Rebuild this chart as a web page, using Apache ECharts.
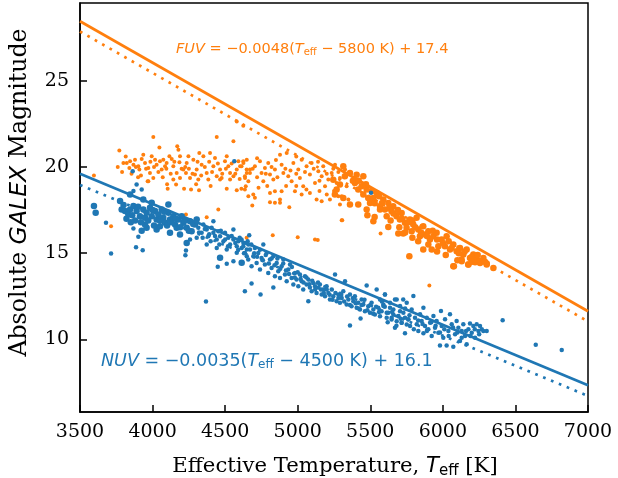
<!DOCTYPE html>
<html><head><meta charset="utf-8">
<script src="https://cdn.jsdelivr.net/npm/echarts@6/dist/echarts.min.js"></script>
<style>html,body{margin:0;padding:0;background:#fff}#c{width:618px;height:478px}</style>
</head><body><div id="c"></div>
<script>
// x tick labels (K) and y tick labels (mag)
const xTicks = [3500,4000,4500,5000,5500,6000,6500,7000];
const yTicks = [10,15,20,25];

// fit lines (endpoints at 3500 K and 7000 K)
const fuvFit = [[3500,28.44],[7000,11.64]];
const fuvFitDotted = [[3500,27.85],[7000,11.05]];
const nuvFit = [[3500,19.60],[7000,7.35]];
const nuvFitDotted = [[3500,18.96],[7000,6.73]];

// FUV measurements (small markers) [Teff, mag]
const fuvSmall = [
[3771,20.95],[3822,20.23],[3845,20.33],[3879,20.42],[3840,19.94],[3902,20.04],[3909,19.85],[3936,20.71],[3948,20.23],[3994,20.62],
[3971,19.94],[3982,19.65],[4005,19.36],[3971,19.17],[4051,20.33],[4074,20.42],[4063,19.85],[4097,20.23],[4132,20.46],[4143,20.04],
[4185,20.27],[4189,20.62],[4212,19.85],[4235,20.23],[4281,20.42],[4304,19.85],[4292,19.56],[4338,20.13],[4350,20.62],[4373,19.65],
[4419,20.04],[4430,20.52],[4442,19.46],[4465,19.85],[4499,20.33],[4511,20.62],[4534,19.65],[4557,19.46],[4580,19.85],[4603,20.04],
[4626,20.23],[4649,19.65],[4637,19.36],[4660,19.17],[3966,19.17],[4104,18.73],[4162,18.98],[4217,18.73],[4265,18.69],[4320,18.65],
[4511,18.73],[4580,18.65],[4612,18.73],[4642,18.88],[4660,18.30],[4143,19.27],[4189,19.36],[4258,19.36],[4315,19.27],[4384,19.27],
[4465,19.27],[4534,19.27],[4005,21.74],[4442,21.74],[4557,21.49],[4047,21.12],[4170,21.20],[4178,21.00],[4580,22.64],[4625,22.39],
[3799,20.23],[3868,20.13],[3925,20.46],[4017,20.42],[4028,20.13],[4086,20.04],[4116,20.62],[4166,19.65],[4230,19.65],[4247,20.62],
[4322,20.81],[4396,20.81],[4476,19.36],[4522,20.04],[4591,20.33],[4649,20.42],[4671,19.85],
[4625,20.33],[4613,20.04],[4648,19.85],[4636,19.46],[4671,19.65],[4705,20.04],[4740,20.33],[4751,19.65],[4774,19.94],[4763,19.17],
[4797,20.23],[4809,19.56],[4832,19.27],[4843,19.85],[4878,20.71],[4889,20.13],[4901,19.65],[4924,20.81],[4935,19.46],[4970,20.23],
[4958,19.17],[5004,19.85],[5027,20.42],[5015,19.36],[5038,18.88],[5061,20.04],[5084,19.56],[5096,20.23],[5119,19.07],[5142,19.75],
[5165,19.46],[5176,20.04],[5188,18.88],[5211,19.27],[5234,19.65],[5257,20.13],[5268,19.07],[5291,19.36],[5303,18.30],[5326,19.85],
[5337,18.88],[5349,18.11],[4636,18.69],[4694,18.40],[4705,18.21],[4809,18.49],[4843,18.59],[4878,18.11],[4889,18.59],[4981,18.59],
[5027,18.40],[5084,18.49],[5130,18.11],[5165,18.01],[5222,18.11],[5280,18.30],[5291,17.82],[4687,17.76],[4942,17.66],[5303,16.91],
[4809,17.95],[4843,17.92],[4878,17.92],
[3596,19.50],[3714,16.56],[4230,17.24],[4373,17.09],[4453,17.53],[4648,15.89],[4828,16.04],[5000,15.93],[5119,15.80],[5138,15.76],
[5907,13.13],[5307,16.91],[5571,16.14],
[3760,20.0],[3790,19.7],[3815,20.6],[3855,19.6],[3885,20.0],[3920,19.5],[3955,19.9],[3985,20.3],[4010,20.0],[4040,19.7],
[4070,19.4],[4095,19.9],[4125,19.6],[4150,20.3],[4200,19.9],[4225,20.0],[4250,19.9],[4275,19.6],[4310,20.3],[4335,19.5],
[4360,20.0],[4390,20.3],[4410,19.7],[4450,20.2],[4480,19.6],[4505,19.9],[4545,20.2],[4570,19.6],[4600,19.3],[4690,19.9],
[4720,19.4],[4780,19.6],[4820,20.0],[4860,19.4],[4915,19.9],[4950,19.8],[4990,19.6],[5050,19.7],[5110,19.9],[5150,19.2],
[5200,19.6],[5245,19.9],[5280,19.7],[5320,19.4],[4730,18.8],[4790,18.9],[4920,18.9],[4990,18.9],[5060,18.7],[5150,18.6],
[5200,18.4],[5250,18.6],[4400,18.9],[4300,19.0],[4100,19.0],[3900,19.4],[4720,20.5],[4850,20.4],[4990,20.6],[5140,20.3]
];
// FUV measurements (large markers)
const fuvLarge = [
[5314,20.04],[5325,19.46],[5360,19.65],[5394,19.07],[5406,19.55],[5417,18.69],[5440,18.88],[5452,19.46],[5452,18.40],[5475,18.69],
[5486,18.20],[5498,17.91],[5521,18.20],[5544,18.49],[5567,17.72],[5590,18.11],[5601,17.53],[5613,17.14],[5624,17.91],[5647,17.43],
[5658,17.72],[5681,17.14],[5704,16.95],[5716,17.33],[5739,16.76],[5750,16.47],[5773,16.95],[5785,16.27],[5796,16.66],[5819,17.05],
[5831,16.37],[5842,15.98],[5865,16.56],[5877,16.08],[5900,16.27],[5911,15.79],[5934,15.98],[5957,16.18],[5969,15.40],[5991,15.79],
[6014,15.40],[6026,15.98],[6049,15.21],[6072,15.50],[6095,15.11],[6118,15.31],[6141,14.92],[6164,15.21],[6187,14.73],[6210,14.92],
[6233,14.63],[6256,14.44],[6279,14.73],[6302,14.34],[6348,14.15],[6175,14.34],[6129,14.63],[5923,15.21],[5865,15.21],[6072,14.25],
[5521,16.85],[5624,16.52],[5693,16.14],[5727,16.14],[5567,17.53],[5475,17.53],[5417,17.82],[5360,17.82],[5314,18.20],[5268,18.69],
[5256,18.40],[5291,18.98],[5245,19.26],[5769,14.83],[6076,14.25],[6130,14.54],[6176,14.35],[6222,14.48],[6256,14.54],[6302,14.40],
[5380,19.2],[5420,19.2],[5470,19.0],[5510,18.6],[5530,17.9],[5560,18.3],[5580,17.9],[5630,17.6],[5660,17.3],[5690,17.5],
[5720,17.0],[5760,16.8],[5790,16.9],[5810,16.5],[5850,16.2],[5890,16.0],[5930,16.3],[5960,15.8],[6000,15.6],[6040,15.7],
[6060,15.3],[6110,15.0],[6150,15.1],[6200,14.8],[6240,14.9],[6290,14.5],[5480,17.2],[5530,17.1],[5640,16.9],[5700,16.5],
[5740,16.2],[5790,15.9],[5830,15.7],[5900,15.5],[5960,15.1],[6020,14.9],[6100,14.6],[6200,14.5]
];

// NUV measurements (large markers)
const nuvLarge = [
[3596,17.73],[3608,17.34],[3776,18.02],[4109,17.82],[3845,18.40],[3936,18.11],[3994,17.92],
[3787,17.53],[3810,17.44],[3833,17.24],[3845,17.53],[3868,17.73],[3890,17.44],[3913,17.15],[3936,17.53],[3948,17.05],[3959,17.34],
[3982,17.63],[3994,17.15],[4017,17.44],[4028,16.95],[4040,17.24],[4063,17.53],[4074,17.05],[4086,16.76],[4109,17.34],[4120,16.95],
[4143,17.15],[4155,16.66],[4166,16.47],[4178,16.95],[4201,17.15],[4212,16.76],[4235,16.47],[4258,16.86],[4269,16.28],[4292,16.66],
[4304,16.95],[4028,16.38],[3959,16.47],[4235,15.60],[3948,16.66],[4051,16.57],[4120,16.18],[4189,16.09],[4465,14.74],[4614,14.45],
[3800,17.8],[3820,17.0],[3860,17.2],[3880,16.9],[3900,17.7],[3920,16.8],[3970,16.9],[4000,17.5],[4010,16.6],[4050,16.9],
[4080,17.4],[4100,16.6],[4130,16.8],[4160,17.0],[4190,16.5],[4220,16.9],[4250,16.3],[4280,16.7],[3850,16.8],[3925,16.3]
];
// NUV measurements (small markers)
const nuvSmall = [
[3679,16.76],[3714,14.99],[3868,16.43],[3902,15.95],[3886,15.35],[3932,15.18],[3863,19.75],[3890,18.98],[3925,18.69],[3868,18.60],
[4563,20.33],[5505,18.50],[4368,12.20],
[4315,16.47],[4338,16.18],[4350,16.66],[4373,16.38],[4384,15.99],[4407,16.47],[4419,16.18],[4442,15.80],[4453,16.28],[4465,15.99],
[4488,15.70],[4499,16.18],[4522,15.89],[4534,15.51],[4557,15.80],[4580,15.41],[4591,15.70],[4614,15.31],[4626,15.60],[4649,15.22],
[4660,15.51],[4258,15.80],[4304,15.89],[4373,15.51],[4442,15.31],[4511,15.22],[4580,15.03],[4649,14.83],[4557,14.54],[4511,14.39],
[4449,14.21],[4230,15.16],[4226,14.89],[4419,16.86],[4557,16.38],
[4613,15.79],[4625,15.41],[4636,15.02],[4648,15.60],[4659,14.63],[4671,15.21],[4682,14.25],[4694,14.83],[4705,15.31],[4717,14.44],
[4728,15.02],[4740,14.06],[4751,14.73],[4763,15.50],[4774,14.34],[4786,15.02],[4797,13.86],[4809,14.63],[4820,14.15],[4832,14.83],
[4843,13.67],[4855,14.44],[4866,13.96],[4878,13.57],[4889,14.25],[4901,14.63],[4912,13.77],[4924,13.38],[4935,14.06],[4947,14.34],
[4958,13.57],[4970,13.19],[4981,13.86],[4992,13.48],[5004,13.09],[5015,13.77],[5027,13.38],[5038,12.90],[5050,13.67],[5061,13.19],
[5073,13.48],[5084,13.01],[5096,12.80],[5107,13.28],[5119,13.09],[5130,12.70],[5142,13.01],[5153,13.19],[5165,12.61],[5176,12.90],
[5188,12.51],[5199,13.09],[5211,12.70],[5222,12.32],[5234,12.90],[5245,12.51],[5257,13.77],[5268,12.22],[5280,12.61],[5291,12.13],
[5303,12.41],[5314,12.80],[5326,13.38],[5337,12.03],[5349,12.32],[5360,12.61],[5371,11.93],[5383,12.22],[5394,12.51],[5406,11.84],
[5417,12.13],[5429,11.74],[5440,12.32],[5452,12.03],[5463,11.64],[5475,13.13],[5486,11.93],[5498,11.55],[5509,12.13],[5521,11.74],
[5532,11.45],[5544,12.90],[5555,11.84],[5567,11.35],[5578,11.64],[5590,12.03],[5601,12.61],[5613,11.26],[5624,11.55],[5636,11.84],
[5647,11.16],[5659,11.45],[5670,12.32],[5682,11.06],[5693,11.35],[5705,11.64],[5716,10.97],[5727,12.32],[5739,11.26],[5751,10.87],
[5762,11.16],[4636,12.80],[4744,12.61],[4832,13.01],[4682,13.24],[5073,12.22],[5360,10.81],[5433,11.22],[4666,16.04],
[5567,12.32],[5590,11.94],[5601,12.61],[5613,11.55],[5636,12.13],[5647,11.26],[5659,11.74],[5670,10.68],[5682,12.32],[5693,11.36],
[5705,11.94],[5716,10.97],[5728,11.55],[5739,10.36],[5751,12.13],[5762,11.17],[5774,10.78],[5785,11.74],[5797,12.52],[5808,11.26],
[5820,10.88],[5831,10.49],[5843,11.46],[5854,11.07],[5866,11.84],[5866,10.36],[5877,10.78],[5889,11.26],[5900,10.59],[5912,10.97],
[5923,10.20],[5935,11.36],[5946,10.68],[5957,11.07],[5969,10.39],[5987,11.65],[5992,10.78],[6003,10.10],[6015,11.17],[6026,9.66],
[6038,10.49],[6049,11.46],[6061,10.88],[6072,9.58],[6084,10.30],[6095,11.07],[6107,10.68],[6118,9.91],[6130,10.49],[6141,10.88],
[6153,10.20],[6164,9.72],[6176,10.59],[6187,10.93],[6199,10.39],[6210,10.78],[6222,10.10],[6233,10.88],[6245,10.49],[6256,10.78],
[6268,10.59],[6279,10.49],[6302,10.49],[5980,9.66],[6412,11.11],[6640,9.70],[6819,9.39],
[4320,16.2],[4345,15.9],[4360,16.4],[4390,16.1],[4400,15.7],[4430,16.0],[4460,15.5],[4470,16.3],[4500,15.8],[4520,15.4],
[4545,16.0],[4570,15.6],[4590,15.2],[4600,15.9],[4630,15.0],[4655,15.7],
[4680,15.5],[4700,15.0],[4720,14.8],[4740,15.2],[4760,14.6],[4780,14.9],[4800,14.4],[4820,14.7],[4840,14.3],[4860,14.7],
[4880,14.1],[4900,14.4],[4920,14.0],[4940,13.8],[4960,14.2],[4980,13.6],[5000,13.9],[5020,13.5],[5040,13.3],[5060,13.6],
[5080,13.2],[5100,13.4],[5120,12.9],[5140,13.3],[5160,12.9],[5180,12.7],[5200,12.9],[5220,12.6],[5240,12.3],[5260,12.7],
[5280,12.4],[5300,12.6],[5320,12.2],[5340,12.5],[5360,12.0],[5380,12.4],[5400,12.1],[5420,11.8],[5440,12.0],[5460,12.3],
[5480,11.7],[5500,12.0],[5520,11.5],[5540,11.9],[5560,11.6],[5580,12.2],[5600,11.9],
[5620,11.0],[5650,11.6],[5680,10.8],[5710,11.2],[5740,11.8],[5770,11.4],[5800,10.6],[5830,11.1],[5860,10.9],[5890,10.5],
[5920,11.0],[5950,10.8],[5980,10.4],[6010,10.6],[6040,10.2],[6070,10.7],[6100,10.4],[6130,10.1],[6160,10.5],[6190,10.2],
[6220,10.6],[6250,10.3]
];

const ORANGE = '#ff7f0e', BLUE = '#1f77b4';
const SERIF = '"DejaVu Serif", serif';
const SANS = '"DejaVu Sans", sans-serif';

const chart = echarts.init(document.getElementById('c'), null, {renderer: 'canvas'});
const mathRich = (color, size) => ({
  i: {fontFamily: SANS, fontStyle: 'italic', fontSize: size, fill: color},
  s: {fontFamily: SANS, fontSize: Math.round(size*0.7), fill: color, padding: [Math.round(size*0.45),0,0,0]},
  n: {fontFamily: SANS, fontSize: size, fill: color},
  r: {fontFamily: SERIF, fontSize: size, fill: color}
});

chart.setOption({
  animation: false,
  grid: {left: 80, right: 30, top: 3, bottom: 66, show: true, borderColor: '#000', borderWidth: 1.5, containLabel: false},
  xAxis: {
    type: 'value', min: 3500, max: 7000, interval: 500,
    axisLine: {show: true, lineStyle: {color: '#000', width: 1.5}},
    axisTick: {show: true, inside: true, length: 7, lineStyle: {color: '#000', width: 1.5}},
    axisLabel: {color: '#000', fontFamily: SERIF, fontSize: 19, margin: 11, formatter: v => String(v)},
    splitLine: {show: false}
  },
  yAxis: {
    type: 'value', min: 5.8, max: 29.5,
    axisLine: {show: true, lineStyle: {color: '#000', width: 1.5}},
    axisTick: {show: true, inside: true, length: 7, lineStyle: {color: '#000', width: 1.5}, customValues: yTicks},
    axisLabel: {color: '#000', fontFamily: SERIF, fontSize: 19, margin: 11, customValues: yTicks, formatter: v => String(v)},
    splitLine: {show: false}
  },
  series: [
    {type: 'scatter', data: fuvSmall, symbolSize: 4, itemStyle: {color: ORANGE, opacity: 1}, z: 2},
    {type: 'scatter', data: fuvLarge, symbolSize: 6.5, itemStyle: {color: ORANGE, opacity: 1}, z: 2},
    {type: 'scatter', data: nuvSmall, symbolSize: 4.5, itemStyle: {color: BLUE, opacity: 1}, z: 3},
    {type: 'scatter', data: nuvLarge, symbolSize: 6.5, itemStyle: {color: BLUE, opacity: 1}, z: 3},
    {type: 'line', data: fuvFit, showSymbol: false, lineStyle: {color: ORANGE, width: 2.7}, z: 4},
    {type: 'line', data: fuvFitDotted, showSymbol: false, lineStyle: {color: ORANGE, width: 2.7, type: [2.7, 5.8]}, z: 4},
    {type: 'line', data: nuvFit, showSymbol: false, lineStyle: {color: BLUE, width: 2.7}, z: 4},
    {type: 'line', data: nuvFitDotted, showSymbol: false, lineStyle: {color: BLUE, width: 2.7, type: [2.7, 5.8]}, z: 4}
  ],
  graphic: [
    {type: 'text', x: 176, y: 49, z: 10, style: {
      text: '{i|FUV}{n| = −0.0048(}{i|T}{s|eff}{n| − 5800 K) + 17.4}',
      rich: mathRich(ORANGE, 14.5), fill: ORANGE, align: 'left', verticalAlign: 'middle'}},
    {type: 'text', x: 101, y: 361, z: 10, style: {
      text: '{i|NUV}{n| = −0.0035(}{i|T}{s|eff}{n| − 4500 K) + 16.1}',
      rich: mathRich(BLUE, 17.5), fill: BLUE, align: 'left', verticalAlign: 'middle'}},
    {type: 'text', x: 335, y: 466, z: 10, style: {
      text: '{r|Effective Temperature, }{i|T}{s|eff}{r| [K]}',
      rich: mathRich('#000', 21.2), fill: '#000', align: 'center', verticalAlign: 'middle'}},
    {type: 'text', x: 20, y: 192.5, rotation: Math.PI/2, z: 10, style: {
      text: '{r|Absolute }{i|GALEX}{r| Magnitude}',
      rich: mathRich('#000', 23.6), fill: '#000', align: 'center', verticalAlign: 'middle'}}
  ]
});
</script>
</body></html>
